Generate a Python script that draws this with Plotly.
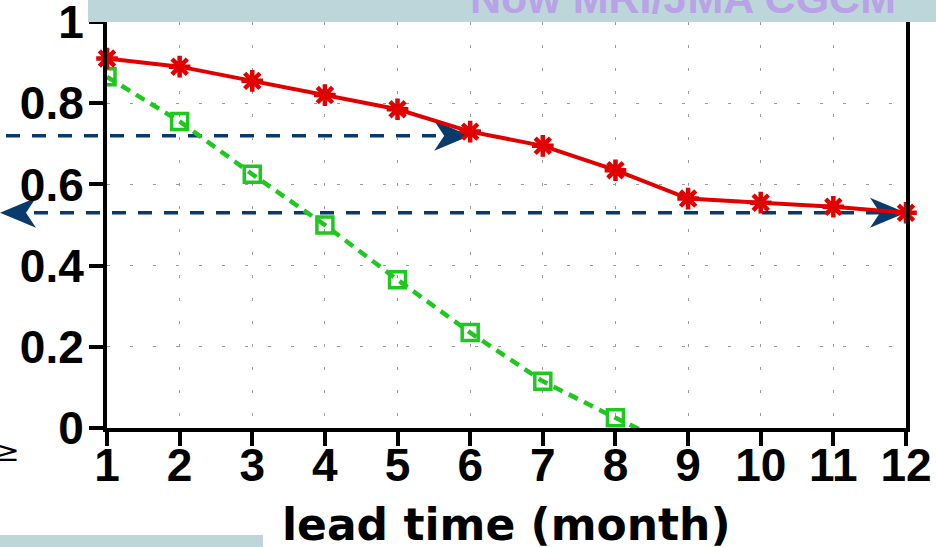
import plotly.graph_objects as go

# ---- data -------------------------------------------------------------
lead_months = [1, 2, 3, 4, 5, 6, 7, 8, 9, 10, 11, 12]
skill_new = [0.91, 0.89, 0.855, 0.82, 0.785, 0.73, 0.695, 0.635, 0.565, 0.555, 0.545, 0.53]

lead_months_old = [1, 2, 3, 4, 5, 6, 7, 8, 9]
skill_old = [0.865, 0.755, 0.625, 0.50, 0.365, 0.235, 0.115, 0.025, -0.06]

x_ticks = [1, 2, 3, 4, 5, 6, 7, 8, 9, 10, 11, 12]
y_ticks = [0, 0.2, 0.4, 0.6, 0.8, 1]
y_tick_text = ["0", "0.2", "0.4", "0.6", "0.8", "1"]

# reference skill levels marked by dashed arrows: (level, lead month reached)
ref_levels = [0.72, 0.53]
ref_leads = [6, 12]

banner_text = "Now MRI/JMA CGCM"
x_title = "lead time (month)"

# ---- geometry ---------------------------------------------------------
W, H = 936, 547
M_L, M_R, M_T, M_B = 107, 30, 22, 119
PW, PH = W - M_L - M_R, H - M_T - M_B
X_RANGE = (1, 12)
Y_RANGE = (0, 1)


def xp(v):
    return (v - X_RANGE[0]) / (X_RANGE[1] - X_RANGE[0])


def yp(v):
    return (v - Y_RANGE[0]) / (Y_RANGE[1] - Y_RANGE[0])


def px_x(p):
    # page pixel column -> paper x
    return (p - M_L) / PW


def px_y(p):
    # page pixel row -> paper y
    return (H - M_B - p) / PH


NAVY = "#083a6e"
RED = "#e00000"
GREEN = "#1ec81e"
TICK_FONT = dict(family="Liberation Sans", size=46, color="black", weight="bold")

fig = go.Figure()

fig.add_trace(go.Scatter(
    x=lead_months_old, y=skill_old, mode="lines+markers",
    line=dict(color=GREEN, width=4.5, dash="10px,7px"),
    marker=dict(symbol="square-open", size=16, color=GREEN, line=dict(width=3.5, color=GREEN)),
    cliponaxis=True, showlegend=False,
))
fig.add_trace(go.Scatter(
    x=lead_months, y=skill_new, mode="lines+markers",
    line=dict(color=RED, width=4),
    marker=dict(symbol="asterisk-open", size=18, color=RED, line=dict(width=4.5, color=RED)),
    cliponaxis=False, showlegend=False,
))

shapes = []
left_edge = px_x(0)
# dashed reference lines
shapes.append(dict(type="line", xref="paper", yref="paper",
                   x0=px_x(-20), x1=xp(ref_leads[0]) - 0.02,
                   y0=yp(ref_levels[0]), y1=yp(ref_levels[0]),
                   line=dict(color=NAVY, width=3.5, dash="14px,12px"), layer="between"))
shapes.append(dict(type="line", xref="paper", yref="paper",
                   x0=left_edge + 0.01, x1=xp(ref_leads[1]) - 0.02,
                   y0=yp(ref_levels[1]), y1=yp(ref_levels[1]),
                   line=dict(color=NAVY, width=3.5, dash="14px,12px"), layer="between"))
# arrowheads
head_right = "M0,0 L-36,15 L-26,0 L-36,-15 Z"
head_left = "M0,0 L36,15 L26,0 L36,-15 Z"
for lvl, ld in zip(ref_levels, ref_leads):
    shapes.append(dict(type="path", xref="paper", yref="paper",
                       xsizemode="pixel", ysizemode="pixel",
                       xanchor=xp(ld), yanchor=yp(lvl), path=head_right,
                       fillcolor=NAVY, line=dict(width=0), layer="between"))
shapes.append(dict(type="path", xref="paper", yref="paper",
                   xsizemode="pixel", ysizemode="pixel",
                   xanchor=left_edge, yanchor=yp(ref_levels[1]), path=head_left,
                   fillcolor=NAVY, line=dict(width=0), layer="between"))

# slide banners
BANNER = "#bcd6da"
shapes.append(dict(type="rect", xref="paper", yref="paper",
                   x0=px_x(88), x1=px_x(W + 2), y0=px_y(22), y1=px_y(-2),
                   fillcolor=BANNER, line=dict(width=0), layer="above"))
shapes.append(dict(type="rect", xref="paper", yref="paper",
                   x0=px_x(-2), x1=px_x(263), y0=px_y(W), y1=px_y(535),
                   fillcolor=BANNER, line=dict(width=0), layer="above"))

annotations = [
    dict(text=banner_text, xref="paper", yref="paper", x=px_x(683), y=px_y(24),
         xanchor="center", yanchor="bottom", showarrow=False,
         font=dict(family="Liberation Sans", size=43, color="#b9a2e6", weight="bold")),
    dict(text="≥", xref="paper", yref="paper", x=px_x(7), y=px_y(452),
         xanchor="center", yanchor="middle", showarrow=False,
         font=dict(family="DejaVu Sans", size=28, color="black")),
    # x-axis title
    dict(text=x_title, xref="paper", yref="paper", x=0.5, y=px_y(524),
         xanchor="center", yanchor="middle", showarrow=False,
         font=dict(family="DejaVu Sans", size=44, color="black", weight="bold")),
]

fig.update_layout(
    width=W, height=H,
    margin=dict(l=M_L, r=M_R, t=M_T, b=M_B, autoexpand=False),
    paper_bgcolor="white", plot_bgcolor="white",
    shapes=shapes, annotations=annotations,
    xaxis=dict(
        range=list(X_RANGE), tickvals=x_ticks, ticks="outside", ticklen=14,
        tickwidth=4, tickcolor="black", showline=True, linewidth=4,
        linecolor="black", mirror=True, zeroline=False, automargin=False,
        showgrid=True, gridcolor="#9a9a9a", gridwidth=1, griddash="3px,20px",
        tickfont=TICK_FONT, ticklabelstandoff=-20, ticklabeloverflow="allow",
    ),
    yaxis=dict(
        range=list(Y_RANGE), tickvals=y_ticks, ticktext=y_tick_text,
        ticks="outside", ticklen=14, tickwidth=4, tickcolor="black",
        showline=True, linewidth=4, linecolor="black", mirror=True,
        zeroline=False, showgrid=True, gridcolor="#9a9a9a", gridwidth=1,
        griddash="3px,20px", tickfont=TICK_FONT, automargin=False,
        ticklabelstandoff=-4, ticklabeloverflow="allow",
    ),
)

fig.write_html("out.html")
